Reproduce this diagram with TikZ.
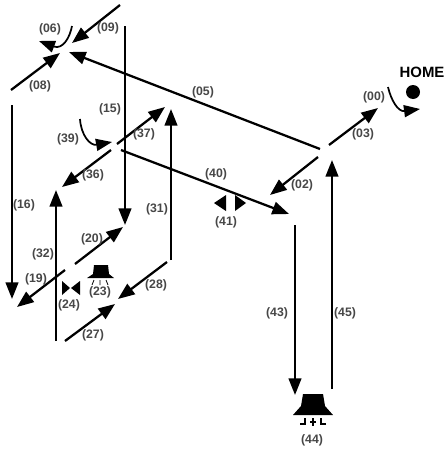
\documentclass[tikz,border=0pt]{standalone}
\usepackage{fontspec}
\setmainfont{Liberation Sans}
\usetikzlibrary{arrows.meta}

\tikzset{
  flow/.style={line width=1.7pt,-{Triangle[length=12.5pt,width=9.5pt]}},
  turn/.style={line width=1.3pt,-{Triangle[length=12pt,width=9pt]}},
  tag/.style={inner sep=0.75pt,font=\bfseries\fontsize{9.2}{11}\selectfont,text=black!72},
  solid mark/.style={fill=black,draw=none},
}

\begin{document}
\begin{tikzpicture}[x=0.75pt,y=0.75pt,yscale=-1,xscale=1]

\useasboundingbox (0,0) rectangle (447,450);

\coordinate (s05) at (320,149);
\coordinate (e05) at (69,52);
\coordinate (s09) at (120,5);
\coordinate (e09) at (72,43);
\coordinate (s08) at (11,90);
\coordinate (e08) at (60,53);
\coordinate (s15) at (125,26);
\coordinate (e15) at (125,225);
\coordinate (s16) at (12,105);
\coordinate (e16) at (12,299);
\coordinate (s32) at (56,341);
\coordinate (e32) at (56,190);
\coordinate (s31) at (171,260);
\coordinate (e31) at (171,109);
\coordinate (s37) at (117,144);
\coordinate (e37) at (165,107);
\coordinate (s36) at (111,150);
\coordinate (e36) at (62,187);
\coordinate (s40) at (121,150);
\coordinate (e40) at (289,214);
\coordinate (s20) at (75,264);
\coordinate (e20) at (123,227);
\coordinate (s19) at (65,270);
\coordinate (e19) at (17,307);
\coordinate (s28) at (167,262);
\coordinate (e28) at (118,299);
\coordinate (s27) at (65,341);
\coordinate (e27) at (115,304);
\coordinate (s03) at (329,145);
\coordinate (e03) at (378,108);
\coordinate (s02) at (318,157);
\coordinate (e02) at (270,195);
\coordinate (s45) at (332,389);
\coordinate (e45) at (332,160);
\coordinate (s43) at (295,225);
\coordinate (e43) at (295,395);

\draw [flow] (s05) -- (e05);
\draw [flow] (s09) -- (e09);
\draw [flow] (s08) -- (e08);
\draw [flow] (s15) -- (e15);
\draw [flow] (s16) -- (e16);
\draw [flow] (s32) -- (e32);
\draw [flow] (s31) -- (e31);
\draw [flow] (s37) -- (e37);
\draw [flow] (s36) -- (e36);
\draw [flow] (s40) -- (e40);
\draw [flow] (s20) -- (e20);
\draw [flow] (s19) -- (e19);
\draw [flow] (s28) -- (e28);
\draw [flow] (s27) -- (e27);
\draw [flow] (s03) -- (e03);
\draw [flow] (s02) -- (e02);
\draw [flow] (s45) -- (e45);
\draw [flow] (s43) -- (e43);

\draw [turn] (72,26) .. controls (70,37) and (63,50) .. (39,41);
\draw [turn] (80,119) .. controls (81,135) and (90,146) .. (112,142);
\draw [turn] (388,87) .. controls (391,100) and (398,112) .. (420,109);

\fill [solid mark] (413,92) circle (7);

\fill [solid mark] (214,203) -- (226,195) -- (226,211) -- cycle;
\fill [solid mark] (246,203) -- (235,195) -- (235,211) -- cycle;
\fill [solid mark] (70,288) -- (62,281) -- (62,295) -- cycle;
\fill [solid mark] (71,288) -- (80,281) -- (80,295) -- cycle;

\fill [solid mark] (94,265) -- (108,265) -- (109,274) -- (114,278) -- (87,278) -- (93,274) -- cycle;
\draw [line width=0.6pt] (92,285) -- (94,280) (100,285) -- (100,280) (108,285) -- (106,280);

\fill [solid mark] (303,394) -- (323,394) -- (325,406) -- (333,415) -- (293,415) -- (301,406) -- cycle;
\draw [line width=0.9pt] (300,424) -- (305,424) -- (305,418);
\draw [line width=0.9pt] (326,424) -- (321,424) -- (321,418);
\draw [line width=0.9pt] (313,418) -- (313,426) (310,422) -- (316,422);

\node [font=\bfseries\fontsize{11.2}{13}\selectfont] (home) at (422,72) {HOME};
\node [tag] (n00) at (374,97) {(00)};
\node [tag] (n02) at (302,185) {(02)};
\node [tag] (n03) at (363,134) {(03)};
\node [tag] (n05) at (203,92) {(05)};
\node [tag] (n06) at (50,29) {(06)};
\node [tag] (n08) at (40,86) {(08)};
\node [tag] (n09) at (108,28) {(09)};
\node [tag] (n15) at (110,109) {(15)};
\node [tag] (n16) at (24,205) {(16)};
\node [tag] (n19) at (36,279) {(19)};
\node [tag] (n20) at (92,239) {(20)};
\node [tag] (n23) at (100,292) {(23)};
\node [tag] (n24) at (69,305) {(24)};
\node [tag] (n27) at (93,335) {(27)};
\node [tag] (n28) at (156,285) {(28)};
\node [tag] (n31) at (157,209) {(31)};
\node [tag] (n32) at (43,254) {(32)};
\node [tag] (n36) at (93,175) {(36)};
\node [tag] (n37) at (144,134) {(37)};
\node [tag] (n39) at (68,139) {(39)};
\node [tag] (n40) at (216,174) {(40)};
\node [tag] (n41) at (226,222) {(41)};
\node [tag] (n43) at (277,313) {(43)};
\node [tag] (n44) at (312,440) {(44)};
\node [tag] (n45) at (345,313) {(45)};

\end{tikzpicture}
\end{document}
